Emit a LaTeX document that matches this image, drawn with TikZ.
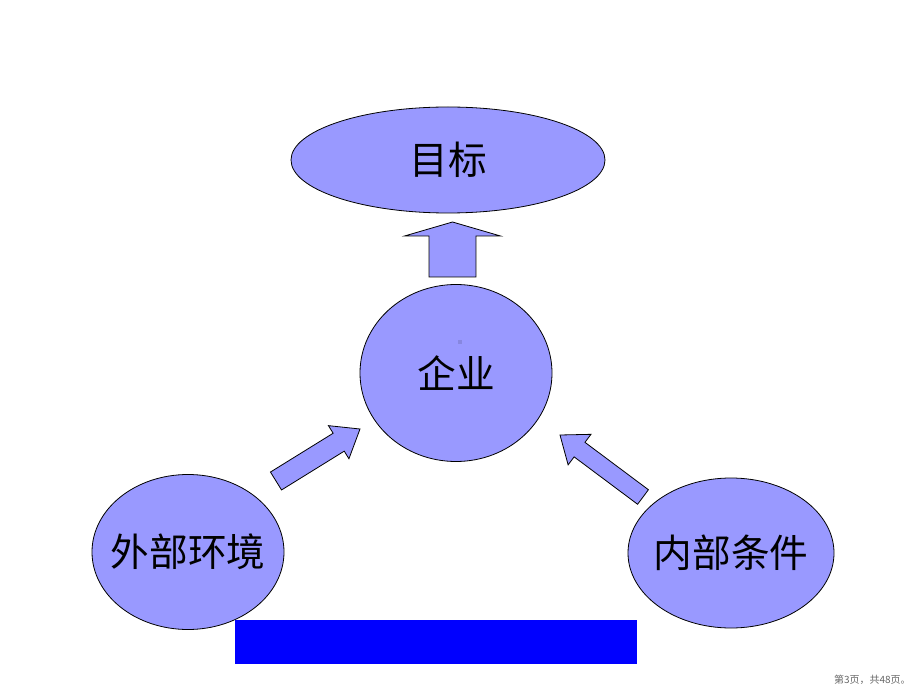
\documentclass[tikz,border=0pt]{standalone}
\usepackage{fontspec}
\newfontfamily\cjk{Noto Sans CJK SC}
\usetikzlibrary{shapes.geometric,calc}
\definecolor{lavender}{HTML}{9999FF}
\definecolor{pureblue}{HTML}{0000FF}

\tikzset{
  blob/.style={ellipse, draw=black, line width=0.6pt, fill=lavender, inner sep=0pt},
  bigtext/.style={font=\cjk\fontsize{29pt}{34pt}\selectfont},
  arrowbody/.style={draw=black, line width=0.6pt, fill=lavender, line join=miter},
}

% tail, tip, half shaft, half head, head length
\newcommand{\blockarrow}[5]{%
  \coordinate (#1-base) at ($(#2)!#5!(#1)$);
  \draw[arrowbody] ($(#1)!#3!90:(#2)$) -- ($(#1-base)!#3!90:(#2)$)
     -- ($(#1-base)!#4!90:(#2)$) -- (#2)
     -- ($(#1-base)!#4!-90:(#2)$) -- ($(#1-base)!#3!-90:(#2)$)
     -- ($(#1)!#3!-90:(#2)$) -- cycle;
}

\begin{document}
\begin{tikzpicture}[x=0.75pt,y=-0.75pt]
    \useasboundingbox (0,0) rectangle (920,691);

    \node[blob, minimum width=235.5pt, minimum height=79.5pt,
          label={[bigtext]center:目标}] (goal) at (448,160) {};
    \node[blob, minimum width=144pt, minimum height=132.75pt,
          label={[bigtext]center:企业}] (firm) at (456,373) {};
    \node[blob, minimum width=144pt, minimum height=116.25pt,
          label={[bigtext]center:外部环境}] (outside) at (188,552) {};
    \node[blob, minimum width=154.5pt, minimum height=112.5pt,
          label={[bigtext]center:内部条件}] (inside) at (731,553) {};

    % small mark in the middle of the firm
    \fill[lavender!88!black] (458,340) rectangle (462,344);

    % block arrows
    \coordinate (upTail) at (452.5,277);
    \coordinate (upTip) at (452.5,222);
    \coordinate (leftTail) at (276,481);
    \coordinate (leftTip) at (360,429);
    \coordinate (rightTail) at (643,497);
    \coordinate (rightTip) at (560,435);

    \blockarrow{upTail}{upTip}{17.6pt}{36pt}{10.5pt}
    \blockarrow{leftTail}{leftTip}{7.9pt}{14.6pt}{18.8pt}
    \blockarrow{rightTail}{rightTip}{6.8pt}{14.3pt}{18.3pt}

    \fill[pureblue] (235,620) rectangle (637,664);

    \node[font=\cjk\fontsize{7.5pt}{9pt}\selectfont, text=gray!80!black, anchor=east,
          inner sep=0pt] (pageNo) at (911,680) {第3页，共48页。};
\end{tikzpicture}
\end{document}
